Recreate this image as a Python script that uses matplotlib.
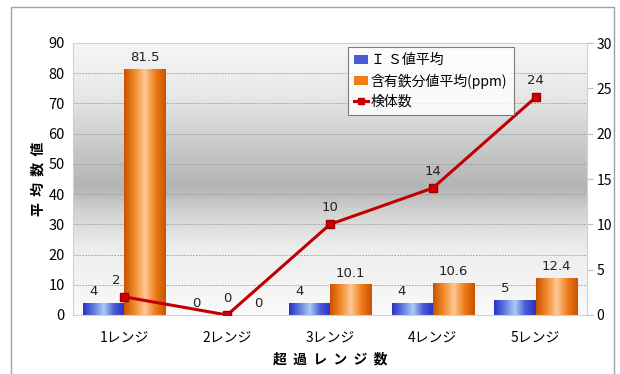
import numpy as np
import matplotlib.pyplot as plt
from matplotlib.colors import LinearSegmentedColormap
from matplotlib.lines import Line2D
from matplotlib.patches import Patch, Rectangle

plt.rcParams['font.family'] = ['Noto Sans CJK JP', 'DejaVu Sans']

# data
categories = ['1レンジ', '2レンジ', '3レンジ', '4レンジ', '5レンジ']
is_avg = [4, 0, 4, 4, 5]
fe_avg = [81.5, 0, 10.1, 10.6, 12.4]
sample_count = [2, 0, 10, 14, 24]
fe_labels = ['81.5', '0', '10.1', '10.6', '12.4']

fig = plt.figure(figsize=(6.2, 3.74), dpi=100)
fig.patches.append(Rectangle((11 / 620, -0.1), (614 - 11) / 620, 1.1 - 7 / 374,
                             transform=fig.transFigure, fill=False,
                             edgecolor='#a0a0a0', linewidth=1))

ax = fig.add_axes([73 / 620, 1 - 315 / 374, 514 / 620, 272 / 374])
ax2 = ax.twinx()
ax.set_zorder(ax2.get_zorder() - 1)
ax.patch.set_visible(False)

x = np.arange(len(categories))
w = 0.4

# background: white at top/bottom, gray band in the middle
bg = LinearSegmentedColormap.from_list('bg', [(0, '#fafafa'), (0.25, '#ececec'),
                                              (0.38, '#d2d2d2'), (0.47, '#b4b4b4'),
                                              (0.6, '#c6c6c6'), (0.8, '#e6e6e6'),
                                              (1, '#f6f6f6')])
grad = np.linspace(0, 1, 256).reshape(-1, 1)
ax.imshow(grad, cmap=bg, aspect='auto', extent=(-0.5, 4.5, 90, 0), zorder=0)

for yv in range(10, 90, 10):
    ax.axhline(yv, color='#9a9a9a', linestyle=(0, (2, 1.5)), linewidth=0.6, zorder=1)

blue_cm = LinearSegmentedColormap.from_list('b', ['#2a2fc4', '#5f7be0', '#a9ccf5', '#4a5ad6', '#2a2fc4'])
orange_cm = LinearSegmentedColormap.from_list('o', ['#c85200', '#f08a2a', '#ffc895', '#ef7d1a', '#c85200'])
hgrad = np.linspace(0, 1, 256).reshape(1, -1)


def shaded_bars(xs, vals, cmap):
    bars = ax.bar(xs, vals, width=w, color='none', edgecolor='none', zorder=2)
    for b in bars:
        if b.get_height() <= 0:
            continue
        x0, x1 = b.get_x(), b.get_x() + b.get_width()
        im = ax.imshow(hgrad, cmap=cmap, aspect='auto',
                       extent=(x0, x1, 0, b.get_height()), zorder=2)
        im.set_clip_path(b)
    return bars


shaded_bars(x - w / 2, is_avg, blue_cm)
shaded_bars(x + w / 2, fe_avg, orange_cm)

for i in range(len(categories)):
    ax.text(x[i] - w / 2 - 0.1, is_avg[i] + 1.5, str(is_avg[i]), ha='center', va='bottom',
            fontsize=9.5, family='DejaVu Sans', color='#222222')
    ax.text(x[i] + w / 2 + (0.1 if fe_avg[i] == 0 else 0), fe_avg[i] + 1.5, fe_labels[i],
            ha='center', va='bottom', fontsize=9.5, family='DejaVu Sans', color='#222222')

ax.set_xlim(-0.5, 4.5)
ax.set_ylim(0, 90)
ax.set_yticks(range(0, 91, 10))
ax.set_xticks(x)
ax.set_xticklabels(categories, fontsize=10)
ax.tick_params(axis='x', length=0, pad=11)
ax.tick_params(axis='y', length=0, pad=6, labelsize=10.5)
ax.set_xlabel('超  過  レ  ン  ジ  数', fontsize=10, fontweight='bold', labelpad=6)
ax.set_ylabel('平  均  数  値', fontsize=10, fontweight='bold', labelpad=2)
for s in ax.spines.values():
    s.set_visible(False)

ax2.plot(x, sample_count, color='#c00000', linewidth=2.2, marker='s', markersize=6,
         markerfacecolor='#d00000', markeredgecolor='#a00000', zorder=5)
for i in range(len(categories)):
    ax2.text(x[i] - (0.08 if i == 0 else 0), sample_count[i] + 1.1, str(sample_count[i]),
             ha='center', va='bottom', fontsize=9.5, family='DejaVu Sans', color='#222222')
ax2.set_ylim(0, 30)
ax2.set_yticks(range(0, 31, 5))
ax2.tick_params(axis='y', length=4, color='#c0c0c0', pad=3, labelsize=10)
for s in ax2.spines.values():
    s.set_color('#d0d0d0')
    s.set_linewidth(0.8)

handles = [Patch(facecolor='#4a5ad6', edgecolor='none'),
           Patch(facecolor='#ef7d1a', edgecolor='none'),
           Line2D([0], [0], color='#c00000', linewidth=2.2, marker='s', markersize=5)]
leg = ax2.legend(handles, ['Ｉ Ｓ値平均', '含有鉄分値平均(ppm)', '検体数'],
                 loc='upper left', bbox_to_anchor=((348 - 73) / 514, 1 - 4 / 272),
                 borderaxespad=0, fontsize=10, frameon=True, fancybox=False,
                 handlelength=1.0, handleheight=0.6, handletextpad=0.2,
                 borderpad=0.45, labelspacing=0.45)
leg.get_frame().set_edgecolor('#606060')
leg.get_frame().set_linewidth(0.8)

fig.savefig('out.png', dpi=100)
